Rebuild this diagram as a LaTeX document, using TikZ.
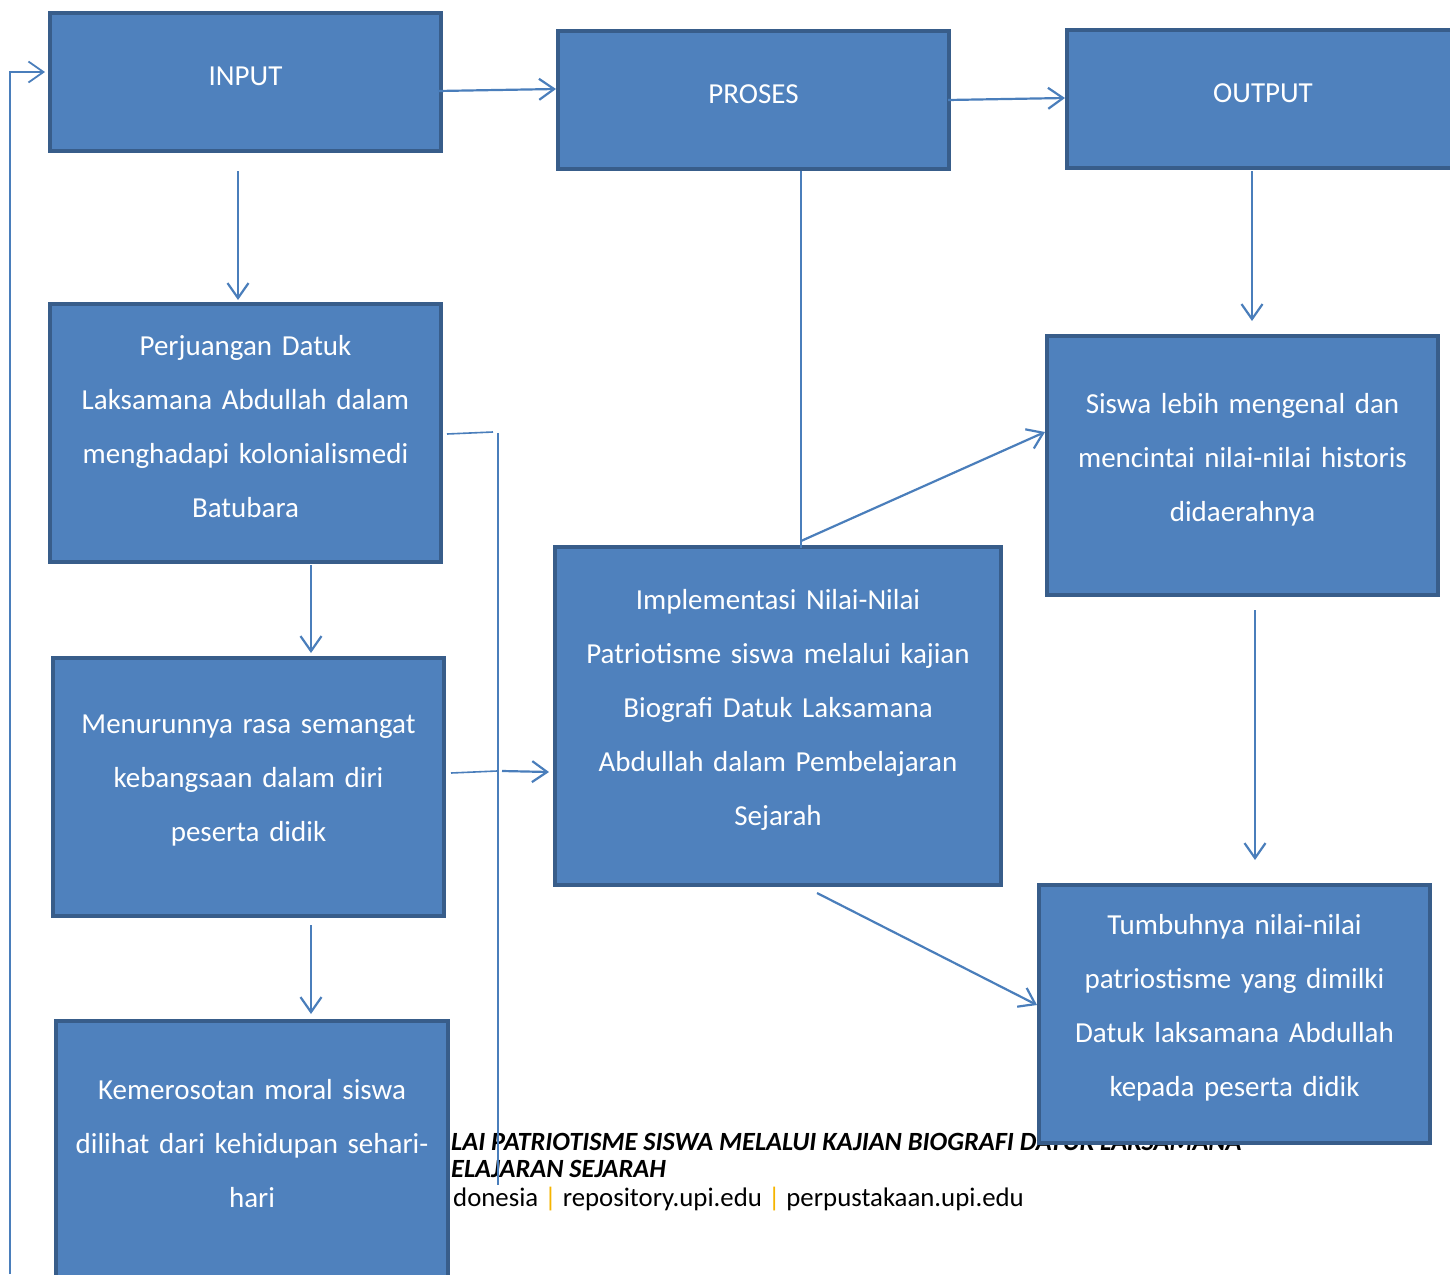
\documentclass[tikz,border=0pt]{standalone}
\usepackage{fontspec}
\setmainfont{Carlito}
\usetikzlibrary{arrows.meta}
\definecolor{boxfill}{HTML}{4F81BD}
\definecolor{boxline}{HTML}{385D8A}
\definecolor{linkcol}{HTML}{4A7EBB}
\definecolor{barcol}{HTML}{F5B400}

\begin{document}
\begin{tikzpicture}[x=1pt,y=-1pt,
    box/.style={draw=boxline,fill=boxfill,line width=4pt,text=white,align=center,
      inner sep=0pt,text width=380pt,font=\fontsize{29}{54}\selectfont,
      execute at end node={\endgraf\vspace*{12pt}}},
    link/.style={draw=linkcol,line width=2.2pt,-{Straight Barb[length=15pt,width=21pt]}},
    plain/.style={draw=linkcol,line width=1.6pt},
    foot/.style={anchor=base west,inner sep=0pt,font=\fontsize{26.8}{30}\selectfont}]
    \clip (0,0) rectangle (1450,1274);
    \node[foot,font=\fontsize{26.3}{30}\selectfont\bfseries\itshape] (footA) at (451,1150) {LAI PATRIOTISME SISWA MELALUI KAJIAN BIOGRAFI DATUK LAKSAMANA};
    \node[foot,font=\fontsize{26.3}{30}\selectfont\bfseries\itshape] (footB) at (451,1177) {ELAJARAN SEJARAH};
    \node[foot] (footC) at (453,1206) {donesia \textcolor{barcol}{|} repository.upi.edu \textcolor{barcol}{|} perpustakaan.upi.edu};
    \node[box,minimum width=391pt,minimum height=138pt] (input) at (245.5,82) {INPUT};
    \node[box,minimum width=391pt,minimum height=138pt] (proses) at (753.5,100) {PROSES};
    \node[box,minimum width=392pt,minimum height=138pt] (output) at (1263,99) {OUTPUT};
    \node[box,minimum width=391pt,minimum height=258pt] (perjuangan) at (245.5,433) {Perjuangan Datuk\\Laksamana Abdullah dalam\\menghadapi kolonialismedi\\Batubara};
    \node[box,minimum width=391pt,minimum height=258pt] (menurun) at (248.5,787) {Menurunnya rasa semangat\\kebangsaan dalam diri\\peserta didik};
    \node[box,minimum width=392pt,minimum height=258pt] (merosot) at (252,1150) {Kemerosotan moral siswa\\dilihat dari kehidupan sehari-\\hari};
    \node[box,text width=440pt,minimum width=446pt,minimum height=338pt] (implementasi) at (778,716) {Implementasi Nilai-Nilai\\Patriotisme siswa melalui kajian\\Biografi Datuk Laksamana\\Abdullah dalam Pembelajaran\\Sejarah};
    \node[box,minimum width=391pt,minimum height=259pt] (mengenal) at (1242.5,465.5) {Siswa lebih mengenal dan\\mencintai nilai-nilai historis\\didaerahnya};
    \node[box,minimum width=391pt,minimum height=258pt] (tumbuh) at (1234.5,1014) {Tumbuhnya nilai-nilai\\patriostisme yang dimilki\\Datuk laksamana Abdullah\\kepada peserta didik};
    \draw[link] ([xshift=-5pt,yshift=-9pt]input.east) -- ([yshift=11pt]proses.west);
    \draw[link] ([xshift=-3pt]proses.east) -- ([yshift=1pt]output.west);
    \draw[link] ([xshift=-7.5pt,yshift=-18pt]input.south) -- ([xshift=-7.5pt,yshift=2pt]perjuangan.north);
    \draw[link] ([xshift=-11pt,yshift=-1pt]output.south) -- ([xshift=9.5pt,yshift=13pt]mengenal.north);
    \draw[link] ([xshift=65.5pt,yshift=-1pt]perjuangan.south) -- ([xshift=62.5pt,yshift=3pt]menurun.north);
    \draw[link] ([xshift=62.5pt,yshift=-7pt]menurun.south) -- ([xshift=59pt,yshift=5pt]merosot.north);
    \draw[link] ([xshift=12.5pt,yshift=-13pt]mengenal.south) -- ([xshift=20.5pt,yshift=23pt]tumbuh.north);
    \draw[plain] ([xshift=47.5pt]proses.south) -- ([xshift=23pt,yshift=-3pt]implementasi.north);
    \draw[link] ([xshift=23pt,yshift=4pt]implementasi.north) -- ([yshift=33.5pt]mengenal.west);
    \draw[link] ([xshift=39pt,yshift=-6pt]implementasi.south) -- ([yshift=9pt]tumbuh.west);
    \coordinate (sideA) at (493,432);
    \coordinate (sideTop) at (498,433);
    \coordinate (sideBot) at (498,1185);
    \draw[plain] ([xshift=4pt,yshift=-1pt]perjuangan.east) -- (sideA);
    \draw[plain] (sideTop) -- (sideBot);
    \coordinate (hopL) at (497,771);
    \coordinate (hopR) at (502,771);
    \draw[plain] ([xshift=5pt,yshift=14pt]menurun.east) -- (hopL);
    \draw[link] (hopR) -- ([xshift=-4pt,yshift=-56pt]implementasi.west);
    \coordinate (loopBot) at (10,1274);
    \draw[link,line width=1.8pt] (loopBot) |- ([xshift=-3pt,yshift=10pt]input.west);
\end{tikzpicture}
\end{document}
